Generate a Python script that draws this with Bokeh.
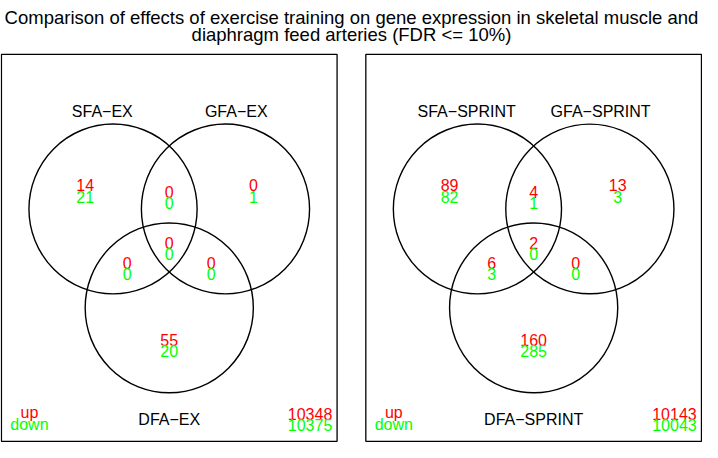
from bokeh.plotting import figure
from bokeh.models import Range1d, ColumnDataSource
from bokeh.core.properties import value
from bokeh.embed import file_html
from bokeh.resources import INLINE

# ---------------- data ----------------
title_lines = ["Comparison of effects of exercise training on gene expression in skeletal muscle and",
               "diaphragm feed arteries (FDR <= 10%)"]
regions = ["SFA only", "SFA&GFA", "GFA only", "SFA&GFA&DFA", "SFA&DFA", "GFA&DFA", "DFA only"]
ex_sets = ["SFA\u2212EX", "GFA\u2212EX", "DFA\u2212EX"]
ex_up = [14, 0, 0, 0, 0, 0, 55]
ex_down = [21, 0, 1, 0, 0, 0, 20]
ex_none = [10348, 10375]
sprint_sets = ["SFA\u2212SPRINT", "GFA\u2212SPRINT", "DFA\u2212SPRINT"]
sprint_up = [89, 4, 13, 2, 6, 0, 160]
sprint_down = [82, 1, 3, 0, 3, 0, 285]
sprint_none = [10143, 10043]
legend_labels = ["up", "down"]

# ---------------- layout (reference pixel space) ----------------
FONT = value("Liberation Sans")
RED = "#FF0000"
GREEN = "#00FF00"
panel_centers = [172.6, 545.3]
panel_w, panel_top, panel_bot = 343.3, 55.8, 456.8
circ_dx, circ_y_top, circ_y_bot = 57.5, 216.0, 318.5
circ_w, circ_h = 172.0, 176.0
# region label offsets (dx, red baseline)
reg_dx = [-86, 0, 86, 0, -43, 43, 0]
reg_y = [191.5, 198.0, 191.5, 251.0, 271.5, 271.5, 351.5]
line_gap = 11.7

p = figure(width=702, height=442, x_range=Range1d(0, 718), y_range=Range1d(458, 0),
           output_backend="svg", toolbar_location=None, min_border=0,
           x_axis_type=None, y_axis_type=None)
p.grid.visible = False
p.outline_line_color = None
p.background_fill_color = "white"

# title
p.text(x=[359, 359], y=[17.2, 35.5], text=title_lines, text_font=FONT, text_font_size="18.5px",
       text_align="center", text_baseline="alphabetic", text_color="black")

panels = [(ex_sets, ex_up, ex_down, ex_none), (sprint_sets, sprint_up, sprint_down, sprint_none)]
for cx, (sets, up, down, none) in zip(panel_centers, panels):
    p.rect(x=[cx], y=[(panel_top + panel_bot) / 2], width=panel_w, height=panel_bot - panel_top,
           fill_color=None, line_color="black", line_width=1.3)
    p.ellipse(x=[cx - circ_dx, cx + circ_dx, cx], y=[circ_y_top, circ_y_top, circ_y_bot],
              width=circ_w, height=circ_h, fill_color=None, line_color="black", line_width=1.4)
    # set names
    p.text(x=[cx - 68.5, cx + 68.5, cx], y=[114.8, 114.8, 434.2], text=sets, text_font=FONT,
           text_font_size="16px", text_align="center", text_baseline="alphabetic", text_color="black")
    # region counts
    src_up = ColumnDataSource(dict(x=[cx + d for d in reg_dx], y=reg_y, t=[str(v) for v in up]))
    src_dn = ColumnDataSource(dict(x=[cx + d for d in reg_dx], y=[v + line_gap for v in reg_y],
                                   t=[str(v) for v in down]))
    p.text(x="x", y="y", text="t", source=src_up, text_font=FONT, text_font_size="16px",
           text_align="center", text_baseline="alphabetic", text_color=RED)
    p.text(x="x", y="y", text="t", source=src_dn, text_font=FONT, text_font_size="16px",
           text_align="center", text_baseline="alphabetic", text_color=GREEN)
    # legend & not-significant totals
    p.text(x=[cx - 143, cx - 143], y=[427.3, 439.0], text=legend_labels, text_font=FONT,
           text_font_size="16px", text_align="center", text_baseline="alphabetic",
           text_color=[RED, GREEN])
    p.text(x=[cx + 144, cx + 144], y=[428.0, 439.7], text=[str(v) for v in none], text_font=FONT,
           text_font_size="16px", text_align="center", text_baseline="alphabetic",
           text_color=[RED, GREEN])

open("out.html", "w").write(file_html(p, INLINE))
